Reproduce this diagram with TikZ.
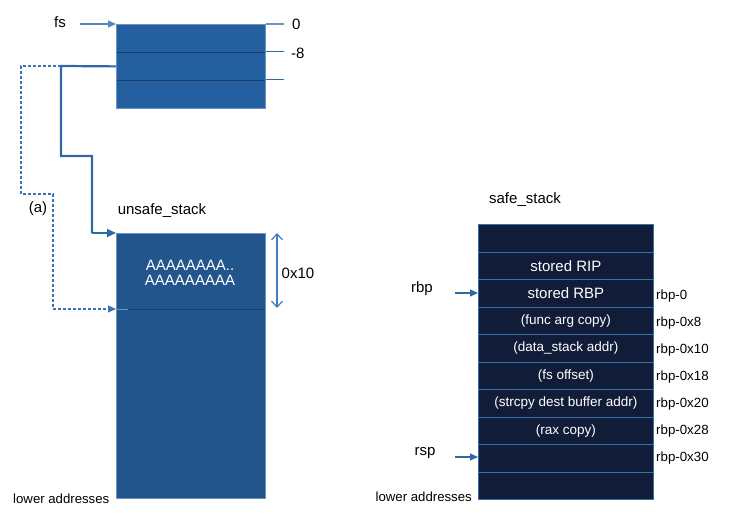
\documentclass[tikz,border=0pt]{standalone}
\usepackage{fontspec}
\setmainfont{Liberation Sans}
\usetikzlibrary{arrows.meta}
\definecolor{fsfill}{HTML}{2460A0}
\definecolor{unfill}{HTML}{22558C}
\definecolor{lightb}{HTML}{6A94C4}
\definecolor{divd}{HTML}{1B3F6A}
\definecolor{safefill}{HTML}{111C38}
\definecolor{safeb}{HTML}{3B6FA8}
\definecolor{linkb}{HTML}{2F68A8}
\definecolor{dashb}{HTML}{3A74B4}
\definecolor{arrb}{HTML}{3F7FC0}
\tikzset{
  x=1pt,y=-1pt,
  fsrow/.style={draw=divd,line width=0.8pt,fill=fsfill,minimum width=149pt,minimum height=28pt,inner sep=0pt,anchor=north west},
  unrow/.style={draw=lightb,line width=0.6pt,fill=unfill,minimum width=149pt,inner sep=0pt,anchor=north west},
  saferow/.style={draw=safeb,line width=0.8pt,fill=safefill,minimum width=175pt,minimum height=27.5pt,inner sep=0pt,anchor=north west,text=white},
  big/.style={font=\fontsize{15}{17}\selectfont},
  small/.style={font=\fontsize{13.5}{15}\selectfont},
  lbl/.style={font=\fontsize{15}{17}\selectfont,inner sep=0pt},
  lowlbl/.style={font=\fontsize{13.2}{15}\selectfont,inner sep=0pt},
  offs/.style={font=\fontsize{13.3}{15}\selectfont,inner sep=0pt,anchor=west},
  ptr/.style={draw=linkb,line width=1.1pt,-{Triangle[length=8pt,width=7pt]}},
  link/.style={draw=linkb,line width=2.2pt},
  dlink/.style={draw=dashb,line width=1.2pt,dash pattern=on 3pt off 2pt}
}
\begin{document}
\begin{tikzpicture}
\useasboundingbox (0,0) rectangle (742,532);
% fs box
\node[fsrow] (fs1) at (116,24) {};
\node[fsrow] (fs2) at (116,52) {};
\node[fsrow] (fs3) at (116,80) {};
\draw[lightb,line width=0.8pt] (116,24) rectangle (265,108);
\draw[lightb,line width=1.5pt] (fs1.north east) -- ++(18,0);
\draw[linkb,line width=1pt] (fs2.north east) -- ++(18,0);
\draw[linkb,line width=1pt] (fs3.north east) -- ++(18,0);
\node[lbl,anchor=west] (zero) at (292,24) {0};
\node[lbl,anchor=west] (m8) at (291,53) {-8};
\node[lbl] (fslbl) at (60,22) {fs};
\coordinate (fsstart) at (80,24);
\draw[ptr,draw=lightb!70!linkb] (fsstart) -- (fs1.north west);
% unsafe stack
\node[unrow,minimum height=76pt] (un1) at (116,233) {};
\node[unrow,minimum height=189pt] (un2) at (116,309) {};
\draw[divd,line width=0.8pt] (128,309) -- (265,309);
\node[lbl,text=white,align=center] (aaa) at (190,273) {AAAAAAAA..\\[-2pt]AAAAAAAAA};
\node[lbl] (unlbl) at (162,211) {unsafe\_stack};
\coordinate (dtop) at (277,233);
\coordinate (dbot) at (277,308);
\draw[arrb,line width=1.2pt,{Straight Barb[length=6pt,width=11pt]}-{Straight Barb[length=6pt,width=11pt]}] (dtop) -- (dbot);
\node[lbl] (hex10) at (298,273) {0x10};
\node[lowlbl,anchor=west] (lowa) at (13,499) {lower addresses};
% links
\coordinate (j1) at (61,66);
\draw[link] (fs2.west) -- (j1) -- (61,156) -- (92,156) -- (92,233);
\draw[ptr,line width=2.2pt,-{Triangle[length=9pt,width=8pt]}] (92,233) -- (un1.north west);
\draw[dlink] (j1) -- (21,66) -- (21,194) -- (53,194) -- (53,309);
\draw[dlink,-{Triangle[length=8pt,width=7pt]}] (53,309) -- (un2.north west);
\node[lbl] (alab) at (38,209) {(a)};
% safe stack
\node[saferow] (s1) at (478,224) {};
\node[saferow,big] (s2) at (478,251.5) {stored RIP};
\node[saferow,big] (s3) at (478,279) {stored RBP};
\node[saferow,small] (s4) at (478,306.5) {(func arg copy)};
\node[saferow,small] (s5) at (478,334) {(data\_stack addr)};
\node[saferow,small] (s6) at (478,361.5) {(fs offset)};
\node[saferow,small] (s7) at (478,389) {(strcpy dest buffer addr)};
\node[saferow,small] (s8) at (478,416.5) {(rax copy)};
\node[saferow] (s9) at (478,444) {};
\node[saferow] (s10) at (478,471.5) {};
\node[lbl] (safelbl) at (525,200) {safe\_stack};
\node[offs] (o0) at (656,296) {rbp-0};
\node[offs] (o8) at (656,323) {rbp-0x8};
\node[offs] (o10) at (656,350) {rbp-0x10};
\node[offs] (o18) at (656,377) {rbp-0x18};
\node[offs] (o20) at (656,404) {rbp-0x20};
\node[offs] (o28) at (656,431) {rbp-0x28};
\node[offs] (o30) at (656,458) {rbp-0x30};
\node[lbl] (rbplbl) at (422,289) {rbp};
\node[lbl] (rsplbl) at (425,453) {rsp};
\coordinate (rbps) at (455,293);
\coordinate (rsps) at (455,457);
\draw[ptr] (rbps) -- (s3.west |- rbps);
\draw[ptr] (rsps) -- (s9.west |- rsps);
\node[lowlbl,anchor=east] (lowb) at (472,497) {lower addresses};
\end{tikzpicture}
\end{document}
